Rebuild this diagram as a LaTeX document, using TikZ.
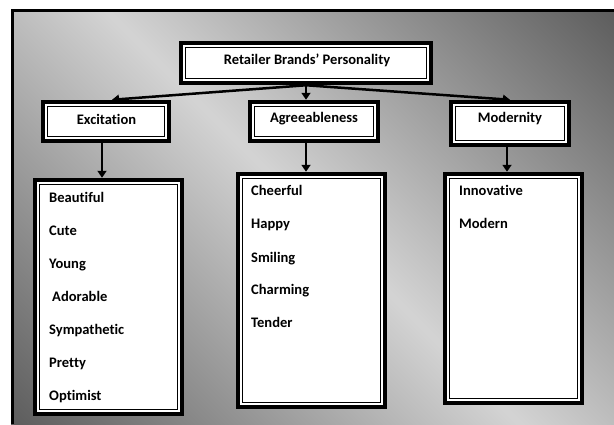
\documentclass[tikz,border=0pt]{standalone}
\usepackage{fontspec}
\setmainfont{Carlito}[Ligatures=NoCommon]
\usetikzlibrary{arrows.meta}
\definecolor{bgdark}{gray}{0.37}
\definecolor{bglight}{gray}{0.83}
\pgfdeclarehorizontalshading{bgshade}{100bp}{color(0bp)=(bgdark); color(15bp)=(bgdark); color(50bp)=(bglight); color(85bp)=(bgdark); color(100bp)=(bgdark)}
\tikzset{
  box/.style={draw=black, line width=4.5bp, fill=white, inner sep=0pt,
    path picture={\draw[line width=0.9bp]
      ([shift={(4.2,4.2)}]path picture bounding box.north west) rectangle
      ([shift={(-4.2,-4.2)}]path picture bounding box.south east);}},
  txt/.style={font=\fontsize{14.6}{16}\selectfont\bfseries, text=black, inner sep=0pt},
  item/.style={txt, anchor=mid west},
  arr/.style={line width=2.5bp, -{Triangle[width=9bp,length=7bp]}}
}
\begin{document}
\begin{tikzpicture}[x=1bp, y=-1bp]
\useasboundingbox (0,0) rectangle (614,424);
% background frame
\fill[shading=bgshade, shading angle=45] (11,9) rectangle (614,424);
\draw[line width=3.5bp] (12.7,424) -- (12.7,10.7) -- (614,10.7);

% boxes
\node[box, minimum width=250bp, minimum height=40bp] (top) at (306,63) {};
\node[box, minimum width=126bp, minimum height=39bp] (exc) at (106,121.5) {};
\node[box, minimum width=128bp, minimum height=39bp] (agr) at (314,121.5) {};
\node[box, minimum width=118bp, minimum height=43bp] (mod) at (510,123.5) {};
\node[box, minimum width=147bp, minimum height=234bp] (excL) at (108.5,297) {};
\node[box, minimum width=147bp, minimum height=233bp] (agrL) at (311.5,290.5) {};
\node[box, minimum width=137bp, minimum height=229bp] (modL) at (513.5,288.5) {};

% titles
\node[txt] (topT) at (307,60) {Retailer Brands’ Personality};
\node[txt] (excT) at (106.5,119) {Excitation};
\node[txt] (agrT) at (314,119) {Agreeableness};
\node[txt] (modT) at (510,119) {Modernity};

% list items
\node[item] (i1) at (49,200) {Beautiful};
\node[item] (i2) at (49,233.5) {Cute};
\node[item] (i3) at (49,266.5) {Young};
\node[item] (i4) at (52,299.5) {Adorable};
\node[item] (i5) at (49,332.5) {Sympathetic};
\node[item] (i6) at (49,365.5) {Pretty};
\node[item] (i7) at (49,398) {Optimist};

\node[item] (a1) at (251,193.5) {Cheerful};
\node[item] (a2) at (251,226.5) {Happy};
\node[item] (a3) at (251,260) {Smiling};
\node[item] (a4) at (251,292.5) {Charming};
\node[item] (a5) at (251,325.5) {Tender};

\node[item] (m1) at (459,193.5) {Innovative};
\node[item] (m2) at (459,226.5) {Modern};

% connectors
\draw[arr] (top.south) -- ([xshift=6bp]exc.north);
\draw[arr] (top.south) -- (top.south |- agr.north);
\draw[arr] (top.south) -- (mod.north);
\draw[arr] ([xshift=-4bp]exc.south) -- ([xshift=-4bp]exc.south |- excL.north);
\draw[arr] (top.south |- agr.south) -- (top.south |- agrL.north);
\draw[arr] ([xshift=-3bp]mod.south) -- ([xshift=-3bp]mod.south |- modL.north);
\end{tikzpicture}
\end{document}
